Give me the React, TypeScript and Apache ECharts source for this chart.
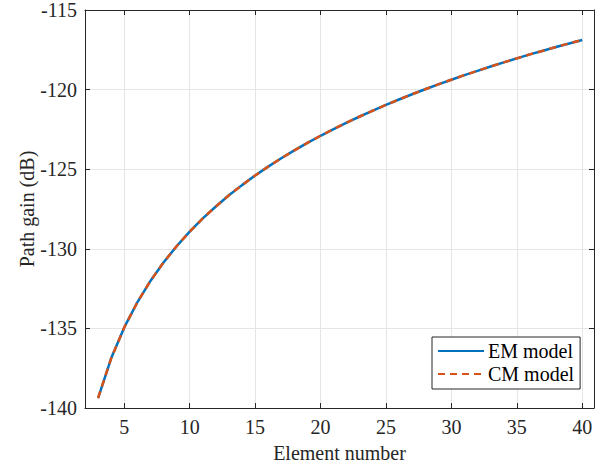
import React, { useEffect, useRef } from "react";
import * as echarts from "echarts";

const elementNumbers = [
  3, 4, 5, 6, 7, 8, 9, 10, 11, 12, 13, 14, 15, 16, 17, 18, 19, 20, 21, 22,
  23, 24, 25, 26, 27, 28, 29, 30, 31, 32, 33, 34, 35, 36, 37, 38, 39, 40,
];
const emGain = [
  -139.38, -136.88, -134.94, -133.36, -132.02, -130.86, -129.84, -128.92,
  -128.09, -127.34, -126.64, -126.0, -125.4, -124.84, -124.31, -123.82,
  -123.35, -122.9, -122.48, -122.07, -121.69, -121.32, -120.96, -120.62,
  -120.29, -119.98, -119.67, -119.38, -119.09, -118.82, -118.55, -118.29,
  -118.04, -117.79, -117.56, -117.32, -117.1, -116.88,
];
const cmGain = [
  -139.38, -136.88, -134.94, -133.36, -132.02, -130.86, -129.84, -128.92,
  -128.09, -127.34, -126.64, -126.0, -125.4, -124.84, -124.31, -123.82,
  -123.35, -122.9, -122.48, -122.07, -121.69, -121.32, -120.96, -120.62,
  -120.29, -119.98, -119.67, -119.38, -119.09, -118.82, -118.55, -118.29,
  -118.04, -117.79, -117.56, -117.32, -117.1, -116.88,
];
const xTicks = [5, 10, 15, 20, 25, 30, 35, 40];
const seriesNames = ["EM model", "CM model"];

const FONT = "Liberation Serif";
const AXIS_COLOR = "#262626";
const GRID_COLOR = "#e5e5e5";

export default function App() {
  const ref = useRef<HTMLDivElement>(null);
  useEffect(() => {
    if (!ref.current) return;
    const chart = echarts.init(ref.current, undefined, { renderer: "svg" });
    const tickStyle = { show: true, inside: true, length: 5, lineStyle: { color: AXIS_COLOR, width: 1 } };
    const lineStyle = { show: true, onZero: false, lineStyle: { color: AXIS_COLOR, width: 1 } };
    const labelStyle = { fontFamily: FONT, fontSize: 20, color: AXIS_COLOR };
    const richLabel = {
      formatter: "{t|{value}}",
      rich: { t: { fontFamily: FONT, fontSize: 20, color: AXIS_COLOR } },
    };
    chart.setOption({
      animation: false,
      backgroundColor: "#ffffff",
      textStyle: { fontFamily: FONT, fontSize: 20 },
      grid: { left: 85, right: 11, top: 8, bottom: 59, containLabel: false },
      legend: {
        left: 432,
        top: 337,
        orient: "vertical",
        data: seriesNames,
        backgroundColor: "#ffffff",
        borderColor: AXIS_COLOR,
        borderWidth: 1,
        borderRadius: 0,
        padding: [4, 6, 5, 5],
        itemGap: 3,
        itemWidth: 46,
        itemHeight: 14,
        itemStyle: { opacity: 0 },
        textStyle: { fontFamily: FONT, fontSize: 20, color: "#000000", padding: [0, 0, 0, -1] },
      },
      xAxis: [
        {
          type: "value",
          min: 2,
          max: 40.9,
          position: "bottom",
          name: "Element number",
          nameLocation: "middle",
          nameGap: 35,
          nameMoveOverlap: false,
          nameTextStyle: labelStyle,
          axisLine: lineStyle,
          axisTick: { ...tickStyle, customValues: xTicks },
          axisLabel: { ...labelStyle, ...richLabel, customValues: xTicks, margin: 9 },
          splitLine: { show: true, lineStyle: { color: GRID_COLOR, width: 1 } },
        },
        {
          type: "value",
          min: 2,
          max: 40.9,
          position: "top",
          axisLine: lineStyle,
          axisTick: { ...tickStyle, customValues: xTicks },
          axisLabel: { show: false },
          splitLine: { show: false },
        },
      ],
      yAxis: [
        {
          type: "value",
          min: -140,
          max: -115,
          interval: 5,
          position: "left",
          name: "Path gain (dB)",
          nameLocation: "middle",
          nameGap: 48,
          nameMoveOverlap: false,
          nameRotate: 90,
          nameTextStyle: labelStyle,
          axisLine: lineStyle,
          axisTick: tickStyle,
          axisLabel: { ...labelStyle, ...richLabel, margin: 8 },
          splitLine: { show: true, lineStyle: { color: GRID_COLOR, width: 1 } },
        },
        {
          type: "value",
          min: -140,
          max: -115,
          interval: 5,
          position: "right",
          axisLine: lineStyle,
          axisTick: tickStyle,
          axisLabel: { show: false },
          splitLine: { show: false },
        },
      ],
      series: [
        {
          name: seriesNames[0],
          type: "line",
          data: elementNumbers.map((x, i) => [x, emGain[i]]),
          symbol: "none",
          color: "#0072BD",
          lineStyle: { color: "#0072BD", width: 2.5, type: "solid" },
          z: 2,
        },
        {
          name: seriesNames[1],
          type: "line",
          data: elementNumbers.map((x, i) => [x, cmGain[i]]),
          symbol: "none",
          color: "#D95319",
          lineStyle: { color: "#D95319", width: 2.5, type: [7, 5] },
          z: 3,
        },
      ],
    });
    return () => chart.dispose();
  }, []);
  return (
    <div
      ref={ref}
      style={{ position: "fixed", left: 0, top: 0, width: 605, height: 468, background: "#fff" }}
    />
  );
}
